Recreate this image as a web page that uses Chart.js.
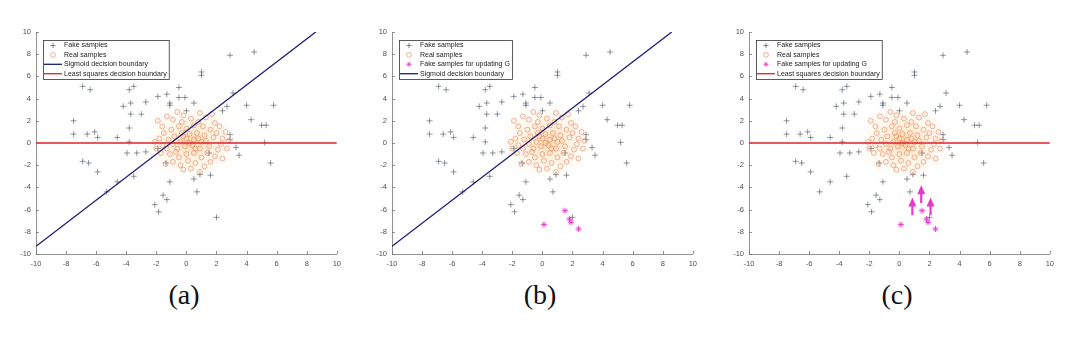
<!DOCTYPE html>
<html>
<head>
<meta charset="utf-8">
<script src="https://cdn.jsdelivr.net/npm/chart.js@4/dist/chart.umd.min.js"></script>
<style>
  body { margin: 0; background: #fff; width: 1080px; height: 337px; position: relative; overflow: hidden; }
  canvas { position: absolute; top: 0; }
  .cap { position: absolute; top: 281px; width: 80px; text-align: center; font-family: "Liberation Serif", serif; font-size: 28px; line-height: 28px; color: #111; }
</style>
</head>
<body>
<canvas id="pa" width="340" height="275"></canvas>
<canvas id="pb" width="340" height="275"></canvas>
<canvas id="pc" width="340" height="275"></canvas>
<div class="cap" id="capa">(a)</div>
<div class="cap" id="capb">(b)</div>
<div class="cap" id="capc">(c)</div>
<script>
// axes
const axisMin = -10, axisMax = 10, axisStep = 2;

// fake samples (+)
const fakeX = [2.9, 4.5, 1.0, 1.0, -6.9, -6.4, -3.5, -3.8, -0.5, -1.3, -1.9, -0.5, -0.1, 0.5, -2.7, -3.7, -4.2, -1.1, -1.1,
    -3.7, -3.0, 3.1, 4.0, 5.8, 2.7, 2.4, 4.3, 5.0, 5.3, -7.5, -7.5, -6.6, -6.1, -5.9, -4.6, -3.8, -3.8, -3.95, -3.3, -2.7,
    -1.9, -1.35, 2.9, 2.9, 3.3, 3.5, 5.6, 5.2, -6.9, -6.5, -5.9, -3.5, -4.6, -5.3, -1.1, 0.5, 0.9, 1.6, 0.7, -1.55, -1.3,
    -2.1, -1.85, 2.0, 0.0, 1.5];
const fakeY = [7.9, 8.2, 6.4, 6.1, 5.1, 4.8, 5.1, 4.8, 5.0, 4.4, 4.2, 4.1, 4.1, 3.6, 3.7, 3.6, 3.3, 3.6, 3.4,
    2.6, 2.6, 4.5, 3.4, 3.4, 3.3, 2.9, 2.1, 1.6, 1.6, 2.0, 0.8, 0.8, 1.0, 0.5, 0.5, 1.35, 0.1, -0.9, -0.9, -0.8,
    -0.5, -1.8, 0.75, 0.3, -0.4, -1.1, -1.8, 0.05, -1.65, -1.8, -2.6, -3.0, -3.5, -4.4, -3.5, -3.25, -2.85, -2.9, -4.4, -4.7, -5.1,
    -5.55, -6.2, -6.7, 2.9, -0.9];

// real samples (o)
const realX = [-1.9, -1.6, -1.3, -0.9, -0.6, -0.2, 0.3, 0.8, 1.3, 1.7, 2.2, 2.6, 2.4, 2.0, 1.6, 1.1, 0.5, 0.0, -0.5, -1.0,
    -1.5, -1.8, -2.1, -1.6, -1.2, -0.8, -0.3, 0.2, 0.7, 1.2, 1.8, 2.3, 2.7, 2.1, 1.5, 1.0, 0.5, 0.0, -0.4, -0.9,
    -1.3, -1.7, -1.1, -0.6, -0.1, 0.4, 0.9, 1.4, 1.9, 2.4, 1.6, 1.0, 0.5, 0.0, -0.5, -0.9, -1.4, -0.4, 0.1, 0.6,
    1.2, 0.3, -0.2, 0.9, 0.2, 0.6, -0.2, 1.3, 0.8, -0.7, 1.9, -0.3, 0.9, 2.8, -2.0];
const realY = [2.0, 1.5, 2.4, 2.1, 2.8, 2.5, 2.2, 1.9, 2.3, 2.6, 1.5, 1.0, 0.4, 0.9, 1.2, 1.5, 1.6, 1.3, 1.5, 1.2,
    0.9, 0.4, 0.1, -0.2, 0.3, 0.6, 0.9, 0.8, 0.9, 0.7, 0.5, -0.1, -0.5, -0.6, -0.3, 0.1, 0.3, 0.4, 0.1, -0.1,
    -0.5, -0.9, -1.0, -0.5, -0.3, -0.2, -0.5, -0.9, -1.2, -1.4, -1.7, -1.3, -0.9, -1.0, -1.3, -1.7, -1.9, -2.0, -1.6, -1.8,
    -2.1, -2.3, -2.4, -2.6, 0.0, -0.5, 0.6, 0.2, 0.4, -0.8, 1.8, 1.9, 2.7, 0.2, -0.5];

// fake samples for updating G
const updX = [1.5, 1.8, 1.9, 2.4, 0.1];
const updY = [-6.1, -6.85, -7.15, -7.75, -7.35];

// decision boundaries
const sigmoidX = [-10, 8.6];
const sigmoidY = [-9.3, 10];
const lsqX = [-10, 10];
const lsqY = [0, 0];

// arrows in (c)
const arrowX = [0.86, 1.45, 2.07];
const arrowFromY = [-6.5, -5.4, -6.5];
const arrowToY = [-4.9, -3.8, -4.9];

const panelLeft = [36, 392, 749];
const capIds = ['capa', 'capb', 'capc'];

const pts = (xs, ys) => xs.map((x, i) => ({x: x, y: ys[i]}));

const FAKE_COL = 'rgba(60,72,82,0.8)';
const REAL_COL = 'rgba(220,115,75,0.7)';
const UPD_COL = '#e23cc8';
const SIG_COL = '#1b1b78';
const LSQ_COL = '#e3202a';

// orange glow behind the real samples
const glowPlugin = {
    id: 'glow',
    beforeDatasetsDraw(chart) {
        const ctx = chart.ctx, xs = chart.scales.x, ys = chart.scales.y;
        const cx = xs.getPixelForValue(0.3), cy = ys.getPixelForValue(0.1);
        const r = xs.getPixelForValue(3.6) - cx;
        ctx.save();
        ctx.translate(cx, cy);
        ctx.scale(1, 0.8);
        const g = ctx.createRadialGradient(0, 0, 0, 0, 0, r);
        g.addColorStop(0, 'rgba(248,185,100,0.55)');
        g.addColorStop(0.4, 'rgba(250,210,150,0.32)');
        g.addColorStop(1, 'rgba(255,240,215,0)');
        ctx.fillStyle = g;
        ctx.beginPath();
        ctx.arc(0, 0, r, 0, Math.PI * 2);
        ctx.fill();
        ctx.restore();
    }
};

// inward tick marks + arrows + boxed legend
const decoPlugin = {
    id: 'deco',
    afterDraw(chart, args, opts) {
        const ctx = chart.ctx, xs = chart.scales.x, ys = chart.scales.y;
        const a = chart.chartArea;
        ctx.save();
        ctx.strokeStyle = '#777';
        ctx.lineWidth = 0.8;
        ctx.beginPath();
        xs.ticks.forEach(t => {
            const px = Math.round(xs.getPixelForValue(t.value)) + 0.5;
            ctx.moveTo(px, a.bottom);
            ctx.lineTo(px, a.bottom - 3);
        });
        ys.ticks.forEach(t => {
            const py = Math.round(ys.getPixelForValue(t.value)) + 0.5;
            ctx.moveTo(a.left, py);
            ctx.lineTo(a.left + 3, py);
        });
        ctx.stroke();

        if (opts.arrows) {
            ctx.strokeStyle = UPD_COL;
            ctx.fillStyle = UPD_COL;
            ctx.lineWidth = 2.2;
            arrowX.forEach((x, i) => {
                const px = xs.getPixelForValue(x);
                const y0 = ys.getPixelForValue(arrowFromY[i]);
                const y1 = ys.getPixelForValue(arrowToY[i]);
                ctx.beginPath();
                ctx.moveTo(px, y0);
                ctx.lineTo(px, y1 + 7);
                ctx.stroke();
                ctx.beginPath();
                ctx.moveTo(px, y1);
                ctx.lineTo(px - 4, y1 + 9);
                ctx.lineTo(px + 4, y1 + 9);
                ctx.closePath();
                ctx.fill();
            });
        }

        // legend
        const items = opts.items;
        ctx.font = '7px "Liberation Sans", Arial, sans-serif';
        let tw = 0;
        items.forEach(it => { tw = Math.max(tw, ctx.measureText(it.label).width); });
        const lx = a.left + 7, ly = a.top + 8;
        const w = 21 + tw + 2, h = 39;
        ctx.fillStyle = '#fff';
        ctx.fillRect(lx, ly, w, h);
        ctx.strokeStyle = '#333';
        ctx.lineWidth = 0.8;
        ctx.strokeRect(lx + 0.5, ly + 0.5, w, h);
        items.forEach((it, i) => {
            const y = ly + 5.5 + i * 9.4;
            ctx.save();
            ctx.strokeStyle = it.color;
            if (it.kind === 'line') {
                ctx.lineWidth = 1.3;
                ctx.beginPath();
                ctx.moveTo(lx + 1, y);
                ctx.lineTo(lx + 19, y);
                ctx.stroke();
            } else if (it.kind === 'circle') {
                ctx.lineWidth = 0.8;
                ctx.beginPath();
                ctx.arc(lx + 10, y, 2.4, 0, Math.PI * 2);
                ctx.stroke();
            } else {
                ctx.fillStyle = it.fill || 'rgba(0,0,0,0)';
                Chart.helpers.drawPoint(ctx, {
                    pointStyle: it.kind, radius: 2.6, borderWidth: 0.8, rotation: 0
                }, lx + 10, y);
            }
            ctx.restore();
            ctx.fillStyle = '#222';
            ctx.textBaseline = 'middle';
            ctx.fillText(it.label, lx + 21, y);
        });
        ctx.restore();
    }
};

function axisOpts(axis) {
    return {
        type: 'linear',
        min: axisMin,
        max: axisMax,
        afterFit(scale) {
            if (axis === 'y') scale.width = 30; else scale.height = 16;
        },
        ticks: {
            stepSize: axisStep,
            padding: 5,
            color: '#505050',
            font: {family: '"Liberation Sans", Arial, sans-serif', size: 7.5},
            maxRotation: 0,
        },
        grid: {drawOnChartArea: false, drawTicks: false},
        border: {display: true, color: '#777', width: 0.8},
    };
}

function buildPanel(canvasId, idx, showSig, showLsq, showUpd, showArrows, items) {
    const cv = document.getElementById(canvasId);
    cv.style.left = (panelLeft[idx] - 30) + 'px';
    const cap = document.getElementById(capIds[idx]);
    cap.style.left = (panelLeft[idx] + 150 - 2 - 40) + 'px';

    const datasets = [];
    if (showSig) {
        datasets.push({
            type: 'line', data: pts(sigmoidX, sigmoidY), borderColor: SIG_COL,
            borderWidth: 1.3, pointRadius: 0, order: 0
        });
    }
    if (showLsq) {
        datasets.push({
            type: 'line', data: pts(lsqX, lsqY), borderColor: LSQ_COL,
            borderWidth: 1.3, pointRadius: 0, order: 0
        });
    }
    if (showUpd) {
        datasets.push({
            data: pts(updX, updY), pointStyle: 'star', pointRadius: 3,
            borderColor: UPD_COL, borderWidth: 0.9, backgroundColor: 'rgba(240,150,220,0.5)', order: 1
        });
    }
    datasets.push({
        data: pts(realX, realY), pointStyle: 'circle', pointRadius: 2.5,
        borderColor: REAL_COL, borderWidth: 0.7, backgroundColor: 'rgba(250,205,170,0.2)', order: 2
    });
    datasets.push({
        data: pts(fakeX, fakeY), pointStyle: 'cross', pointRadius: 3,
        borderColor: FAKE_COL, borderWidth: 0.7, order: 3
    });

    new Chart(cv, {
        type: 'scatter',
        data: {datasets: datasets},
        options: {
            responsive: false,
            animation: false,
            devicePixelRatio: 1,
            layout: {padding: {top: 32, right: 9, bottom: 5, left: 0}},
            scales: {x: axisOpts('x'), y: axisOpts('y')},
            plugins: {
                legend: {display: false},
                tooltip: {enabled: false},
                deco: {items: items, arrows: showArrows},
            }
        },
        plugins: [glowPlugin, decoPlugin]
    });
}

const fakeItem = {kind: 'cross', label: 'Fake samples', color: FAKE_COL};
const realItem = {kind: 'circle', label: 'Real samples', color: REAL_COL};
const updItem = {kind: 'star', label: 'Fake samples for updating G', color: UPD_COL, fill: 'rgba(240,150,220,0.6)'};
const sigItem = {kind: 'line', label: 'Sigmoid decision boundary', color: SIG_COL};
const lsqItem = {kind: 'line', label: 'Least squares decision boundary', color: LSQ_COL};

window.onload = function() {
    buildPanel('pa', 0, true, true, false, false, [fakeItem, realItem, sigItem, lsqItem]);
    buildPanel('pb', 1, true, false, true, false, [fakeItem, realItem, updItem, sigItem]);
    buildPanel('pc', 2, false, true, true, true, [fakeItem, realItem, updItem, lsqItem]);
};
</script>
</body>
</html>
